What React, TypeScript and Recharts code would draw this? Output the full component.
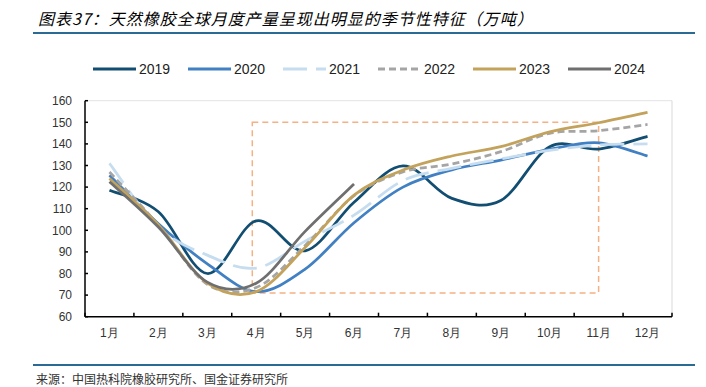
import { ComposedChart, Line, XAxis, YAxis, ReferenceArea, ReferenceLine } from 'recharts';

const months = ['1月', '2月', '3月', '4月', '5月', '6月', '7月', '8月', '9月', '10月', '11月', '12月'];
const yTicks = [60, 70, 80, 90, 100, 110, 120, 130, 140, 150, 160];

const y2019 = [118.5, 108.6, 80, 104.4, 90.5, 113, 129.8, 114.8, 113.8, 138.7, 137.6, 143.5];
const y2020 = [125.5, 103, 84.5, 71.6, 82, 103.5, 120, 128, 132.5, 137.5, 140.5, 134.4];
const y2021 = [131, 101.5, 88.5, 82.5, 95, 107, 123, 128.7, 133, 137, 139.5, 140];
const y2022 = [127, 102.5, 75, 73.5, 93, 116, 127, 130.7, 136.4, 144.9, 146.1, 149];
const y2023 = [124, 102.5, 75.5, 71.6, 92, 116.3, 127.9, 134.4, 138.7, 145.6, 149.8, 154.6];
const y2024 = [122.5, 101.5, 76, 75.5, 99.5, 121.4];

const series = [
  { key: 's2019', name: '2019', color: '#124E72', dash: undefined },
  { key: 's2020', name: '2020', color: '#4180C3', dash: undefined },
  { key: 's2021', name: '2021', color: '#C6DDF0', dash: '24 9' },
  { key: 's2022', name: '2022', color: '#A5A5A5', dash: '7 4' },
  { key: 's2023', name: '2023', color: '#C3A25B', dash: undefined },
  { key: 's2024', name: '2024', color: '#6F6F6F', dash: undefined },
];

const data = months.map((m, i) => ({
  x: i + 1,
  label: m,
  s2019: y2019[i],
  s2020: y2020[i],
  s2021: y2021[i],
  s2022: y2022[i],
  s2023: y2023[i],
  s2024: y2024[i] ?? null,
}));

const edgeTicks = [...months.map((_, i) => i + 0.5), months.length + 0.5];

// Excel-like smoothing (Catmull-Rom through every point)
function smooth(context: any) {
  let pts: number[][] = [];
  return {
    areaStart() {},
    areaEnd() {},
    lineStart() {
      pts = [];
    },
    point(x: number, y: number) {
      pts.push([+x, +y]);
    },
    lineEnd() {
      const n = pts.length;
      if (!n) return;
      context.moveTo(pts[0][0], pts[0][1]);
      for (let i = 0; i < n - 1; i++) {
        const p0 = pts[Math.max(i - 1, 0)];
        const p1 = pts[i];
        const p2 = pts[i + 1];
        const p3 = pts[Math.min(i + 2, n - 1)];
        context.bezierCurveTo(
          p1[0] + (p2[0] - p0[0]) / 6,
          p1[1] + (p2[1] - p0[1]) / 6,
          p2[0] - (p3[0] - p1[0]) / 6,
          p2[1] - (p3[1] - p1[1]) / 6,
          p2[0],
          p2[1]
        );
      }
    },
  };
}

const FONT = 'Arial, "Liberation Sans", sans-serif';
const CJK = '"Noto Sans CJK SC", sans-serif';
const RULE = '#2C6A96';

export default function App() {
  return (
    <div style={{ position: 'absolute', left: 0, top: 0, width: 706, height: 387, background: '#fff', overflow: 'hidden' }}>
      <div
        style={{
          position: 'absolute',
          left: 38,
          top: 8,
          lineHeight: '20px',
          fontSize: 16,
          fontStyle: 'italic',
          letterSpacing: 1,
          fontFamily: CJK,
          color: '#000',
          whiteSpace: 'nowrap',
        }}
      >
        图表37：天然橡胶全球月度产量呈现出明显的季节性特征（万吨）
      </div>
      <div style={{ position: 'absolute', left: 33, top: 32, width: 662, height: 2, background: RULE }} />

      <div style={{ position: 'absolute', left: 93, top: 60, display: 'flex', height: 18 }}>
        {series.map((s) => (
          <div key={s.key} style={{ width: 95, display: 'flex', alignItems: 'center' }}>
            <svg width={43} height={6} style={{ display: 'block' }}>
              <line x1={0} y1={3} x2={43} y2={3} stroke={s.color} strokeWidth={3} strokeDasharray={s.dash} />
            </svg>
            <span style={{ marginLeft: 3, fontSize: 14, fontFamily: FONT, color: '#222' }}>{s.name}</span>
          </div>
        ))}
      </div>

      <div style={{ position: 'absolute', left: 0, top: 0 }}>
        <ComposedChart
          width={706}
          height={387}
          data={data}
          margin={{ top: 100.7, right: 34, left: 0, bottom: 39.3 }}
        >
          <XAxis
            xAxisId="edge"
            dataKey="x"
            type="number"
            domain={[0.5, 12.5]}
            ticks={edgeTicks}
            interval={0}
            height={1}
            tickSize={-4}
            tickFormatter={() => ''}
            stroke="#000"
            axisLine={{ stroke: '#000', strokeWidth: 1.5 }}
            tickLine={{ stroke: '#000', strokeWidth: 1.5 }}
          />
          <XAxis
            xAxisId="m"
            dataKey="x"
            type="number"
            domain={[0.5, 12.5]}
            ticks={data.map((d) => d.x)}
            interval={0}
            height={30}
            axisLine={false}
            tickLine={false}
            tickSize={0}
            tickMargin={11}
            tickFormatter={(v) => months[v - 1]}
            tick={{ fontSize: 12, fill: '#333', fontFamily: FONT }}
          />
          <YAxis
            type="number"
            domain={[60, 160]}
            ticks={yTicks}
            interval={0}
            width={85}
            tickSize={-3}
            tickMargin={16}
            axisLine={{ stroke: '#000', strokeWidth: 1.5 }}
            tickLine={{ stroke: '#000', strokeWidth: 1.5 }}
            tick={{ fontSize: 12, fill: '#333', fontFamily: FONT }}
          />
          <ReferenceLine xAxisId="m" y={160} stroke="#E3E3E3" strokeWidth={1} />
          <ReferenceLine xAxisId="m" x={12.5} stroke="#D9D9D9" strokeWidth={1} />
          <ReferenceArea
            xAxisId="m"
            x1={3.92}
            x2={11}
            y1={71}
            y2={150}
            fill="none"
            fillOpacity={0}
            stroke="#F4B183"
            strokeWidth={1.5}
            strokeDasharray="6 4"
          />
          {series.map((s) => (
            <Line
              key={s.key}
              xAxisId="m"
              dataKey={s.key}
              name={s.name}
              type={smooth as any}
              stroke={s.color}
              strokeWidth={2.75}
              strokeDasharray={s.dash}
              dot={false}
              activeDot={false}
              isAnimationActive={false}
            />
          ))}
        </ComposedChart>
      </div>

      <div style={{ position: 'absolute', left: 33, top: 364, width: 662, height: 2, background: RULE }} />
      <div
        style={{
          position: 'absolute',
          left: 36,
          top: 372,
          lineHeight: '14px',
          fontSize: 12,
          fontFamily: CJK,
          color: '#333',
          whiteSpace: 'nowrap',
        }}
      >
        来源：中国热科院橡胶研究所、国金证券研究所
      </div>
    </div>
  );
}
